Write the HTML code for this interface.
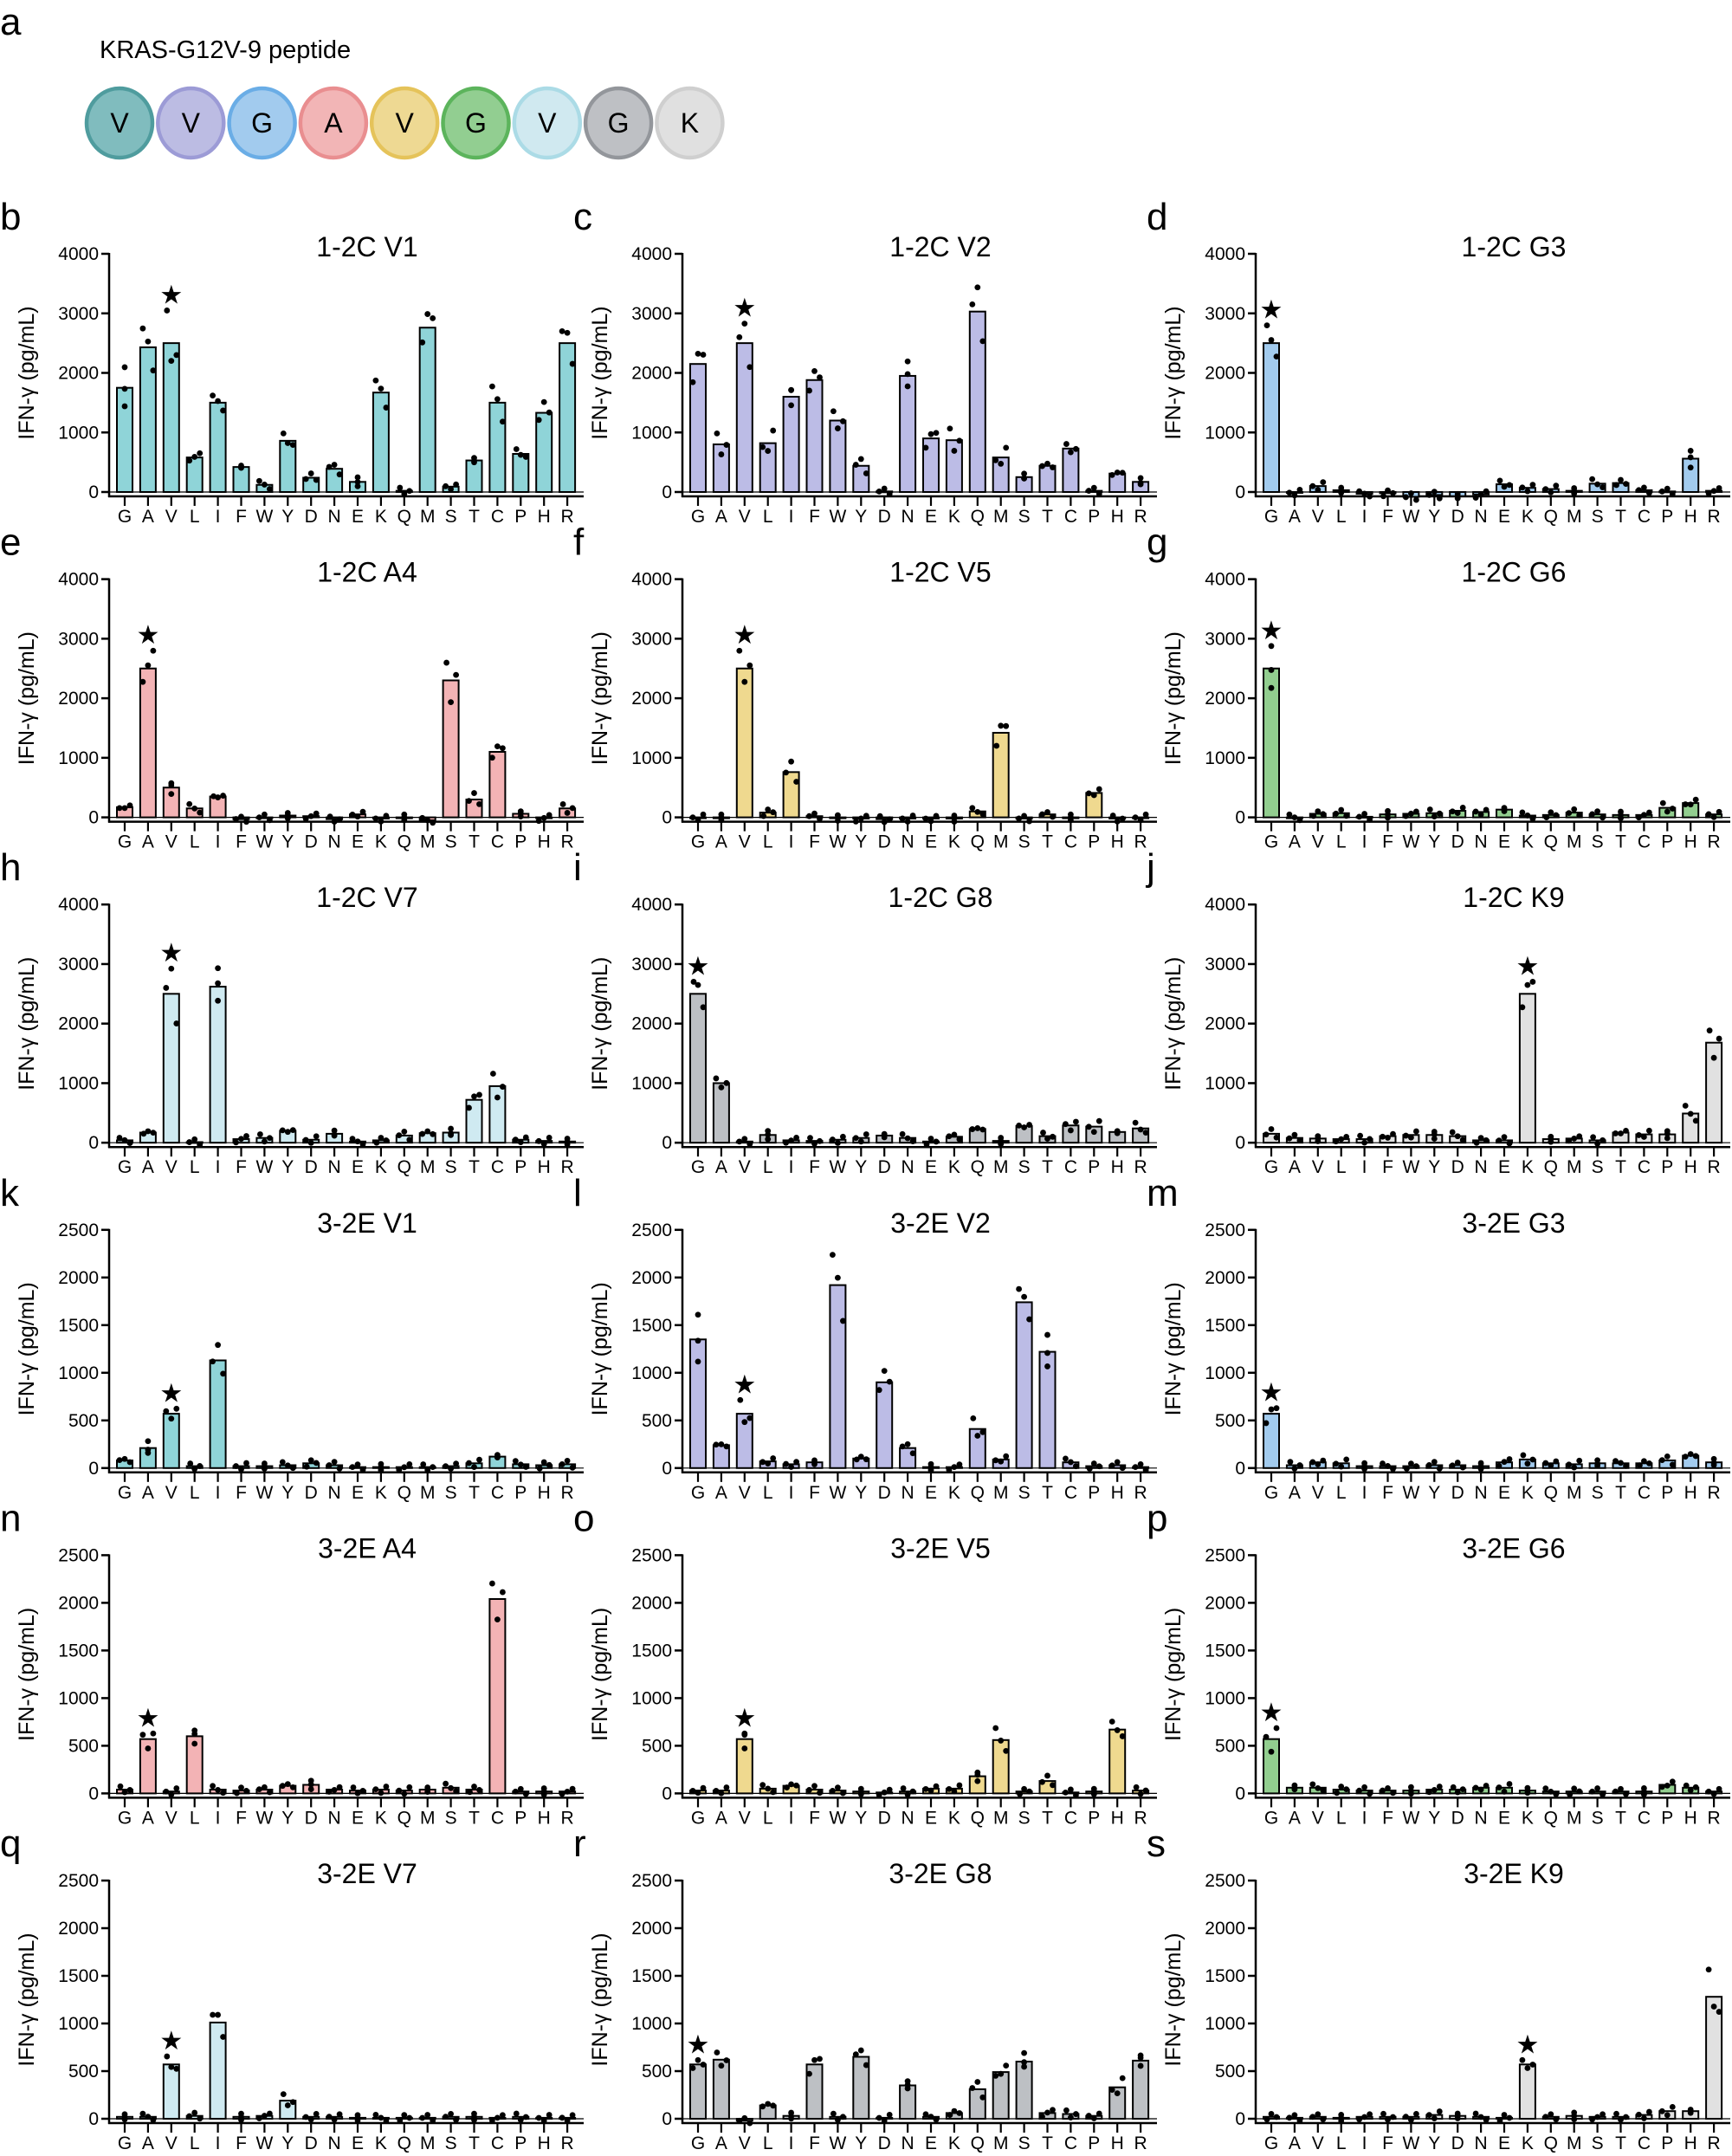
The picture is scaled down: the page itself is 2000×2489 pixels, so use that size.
<!DOCTYPE html>
<html><head><meta charset="utf-8">
<style>
html,body{margin:0;padding:0;background:#fff;}
svg{display:block;font-family:"Liberation Sans",Arial,sans-serif;}
</style></head>
<body>
<svg id="s" width="2000" height="2489" viewBox="0 0 2000 2489" xmlns="http://www.w3.org/2000/svg">
<text x="0" y="40" font-size="44">a</text>
<text x="115" y="67" font-size="29">KRAS-G12V-9 peptide</text>
</svg>
<script>
const S=document.getElementById('s');const NS='http://www.w3.org/2000/svg';
function el(t,a,txt){const e=document.createElementNS(NS,t);for(const k in a)e.setAttribute(k,a[k]);if(txt!==undefined)e.textContent=txt;S.appendChild(e);return e;}
const fills=['#80bcbe','#bcbce3','#a2cbee','#f2b5b6','#eed993','#92ce91','#d0e9f0','#bec0c4','#e0e0e0'];
const strokes=['#4f9c9e','#9c9bd6','#6aade6','#e98e90','#e5c35a','#5cb45c','#abdbe6','#93969b','#cfcfcf'];
const barFill=['#8fd4d8','#bcbce6','#a2cbee','#f3b3b5','#efd98f','#92ce8f','#cfeaf1','#bdc0c4','#e1e1e1'];
const pep=['V','V','G','A','V','G','V','G','K'];
pep.forEach((p,i)=>{const cx=138+i*82.3;el('ellipse',{cx:cx,cy:142,rx:38,ry:40,fill:fills[i],stroke:strokes[i],'stroke-width':4.5});
el('text',{x:cx,y:153,'font-size':32,'text-anchor':'middle'},p);});
const AA=['G','A','V','L','I','F','W','Y','D','N','E','K','Q','M','S','T','C','P','H','R'];
const P=[
['b','1-2C  V1',0,4000,2,[1750,2430,2500,580,1500,420,120,860,240,390,170,1670,20,2760,90,530,1500,640,1330,2500]],
['c','1-2C  V2',1,4000,2,[2150,800,2500,820,1600,1880,1200,440,10,1950,900,870,3030,580,250,440,730,20,310,170]],
['d','1-2C  G3',2,4000,0,[2500,-10,100,30,-30,-20,-80,-50,-70,-40,130,70,50,20,140,150,30,10,560,20]],
['e','1-2C  A4',3,4000,1,[170,2500,500,150,350,-30,0,30,20,-30,50,-20,0,-50,2300,300,1100,60,-10,150]],
['f','1-2C  V5',4,4000,2,[0,0,2500,80,760,20,-10,-20,-30,-20,-20,-20,100,1420,-20,50,0,410,-20,0]],
['g','1-2C  G6',5,4000,0,[2500,0,60,70,10,50,60,70,110,90,130,30,40,80,50,40,40,160,240,50]],
['h','1-2C  V7',6,4000,2,[40,170,2500,10,2620,60,80,200,50,150,20,40,120,160,170,720,950,50,30,20]],
['i','1-2C  G8',7,4000,0,[2500,1000,20,130,40,30,50,80,120,80,20,100,230,30,280,110,290,270,180,240]],
['j','1-2C  K9',8,4000,11,[150,80,70,60,60,110,130,130,110,40,40,2500,60,70,40,170,140,140,490,1680]],
['k','3-2E  V1',0,2500,2,[80,210,570,20,1130,20,20,30,50,30,10,10,10,10,20,50,120,40,30,40]],
['l','3-2E  V2',1,2500,2,[1350,240,570,70,40,60,1920,100,900,210,10,10,410,90,1740,1220,60,20,30,10]],
['m','3-2E  G3',2,2500,0,[570,30,60,50,20,20,20,30,30,20,60,90,50,40,50,50,50,80,130,60]],
['n','3-2E  A4',3,2500,1,[40,570,20,600,40,30,40,80,90,40,30,40,30,40,60,40,2040,20,20,20]],
['o','3-2E  V5',4,2500,2,[30,30,570,50,80,40,30,20,10,20,50,50,180,560,20,130,10,20,670,30]],
['p','3-2E  G6',5,2500,0,[570,60,60,40,30,30,30,40,40,60,60,30,20,20,20,20,20,90,60,20]],
['q','3-2E  V7',6,2500,2,[20,20,570,30,1010,20,30,190,20,20,10,10,10,10,20,20,10,20,10,10]],
['r','3-2E  G8',7,2500,0,[570,620,-20,140,30,570,20,650,10,350,20,60,310,490,600,60,50,30,330,610]],
['s','3-2E  K9',8,2500,11,[20,10,20,10,20,20,20,40,30,20,10,570,20,30,20,20,40,80,80,1280]]
];
const DX=[[0,0,0],[-6,0,6],[-5,6,0],[0,-6,6],[6,-6,0]];
const DK=[[0.17,-0.01,-0.15],[0.1,-0.09,0.04],[0.15,0.04,-0.18],[-0.12,0.08,0.05],[0.2,-0.08,-0.1]];
const H=275;
P.forEach((p,idx)=>{
 const [lab,title,ci,max,star,vals]=p;
 const col=idx%3,row=Math.floor(idx/3);
 const ax=126+col*662, top=293+row*375.6, zero=top+H;
 const sc=H/max;
 el('text',{x:ax-126,y:top-28,'font-size':44},lab);
 el('text',{x:ax+298,y:top+3,'font-size':32,'text-anchor':'middle'},title);
 el('text',{x:0,y:0,'font-size':25,'text-anchor':'middle',transform:`translate(${ax-87},${top+H/2}) rotate(-90)`},'IFN-γ (pg/mL)');
 const step=max/ (max==4000?4:5);
 for(let v=0;v<=max;v+=step){const y=zero-v*sc;el('line',{x1:ax-9,y1:y,x2:ax,y2:y,stroke:'#000','stroke-width':2.5});
  el('text',{x:ax-12,y:y+7,'font-size':21,'text-anchor':'end'},String(v));}
 el('line',{x1:ax,y1:top-1,x2:ax,y2:zero+6,stroke:'#000','stroke-width':2.5});
 el('line',{x1:ax,y1:zero,x2:ax+548,y2:zero,stroke:'#000','stroke-width':1.2});
 el('line',{x1:ax-1,y1:zero+5,x2:ax+548,y2:zero+5,stroke:'#000','stroke-width':2.5});
 vals.forEach((v,i)=>{
  const cx=ax+18+i*26.9;
  el('line',{x1:cx,y1:zero+5,x2:cx,y2:zero+16,stroke:'#000','stroke-width':2.2});
  el('text',{x:cx,y:zero+35,'font-size':21,'text-anchor':'middle'},AA[i]);
  const y=zero-v*sc;
  el('rect',{x:cx-9,y:Math.min(y,zero),width:18,height:Math.max(Math.abs(zero-y),1),fill:barFill[ci],stroke:'#000','stroke-width':2});
  const k=(i*7+idx*3)%5;
  const dk=DK[k],dx=DX[(i+idx)%5];
  let miny=1e9;
  for(let j=0;j<3;j++){
   const dv=v*dk[j]+(j-1)*max*0.012*((i+idx)%2?1:-1);
   const yy=zero-(v+dv)*sc; miny=Math.min(miny,yy);
   el('circle',{cx:cx+dx[j],cy:yy,r:3.4,fill:'#000'});
  }
  if(i===star){el('text',{x:cx,y:miny-8,'font-size':30,'text-anchor':'middle'},'★');}
 });
});
</script>
</body></html>
